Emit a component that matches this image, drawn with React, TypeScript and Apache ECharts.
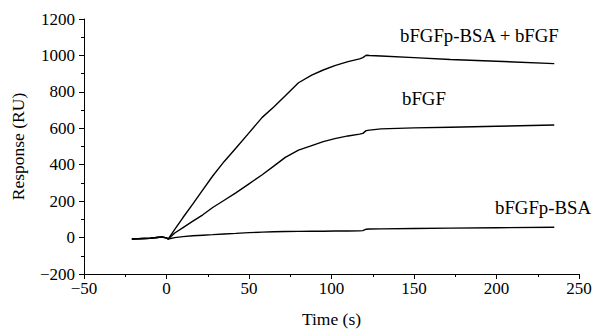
import React, { useEffect, useRef } from "react";
import * as echarts from "echarts";

const time = [-21, -10, -3, 0, 1, 5, 10, 16, 22, 28, 35, 42, 50, 58, 65, 72, 80, 88, 95, 102, 110, 117, 119, 121, 123, 130, 150, 172, 200, 235];
const complexResp = [-8, -4, 3, -2, -8, 45, 110, 185, 262, 338, 418, 490, 575, 660, 717, 778, 850, 892, 920, 944, 966, 981, 988, 1001, 1000, 997, 988, 978, 968, 955];
const bfgfResp = [-8, -4, 3, -2, -8, 25, 55, 90, 125, 165, 205, 245, 295, 345, 392, 440, 480, 505, 527, 543, 558, 568, 572, 587, 590, 597, 602, 606, 611, 618];
const bsaResp = [-8, -4, 3, -2, -8, 0, 5, 10, 13, 16, 20, 23, 27, 30, 32, 33, 34, 35, 35, 36, 36, 37, 38, 46, 47, 48, 50, 52, 54, 57];

const seriesNames = ["bFGFp-BSA + bFGF", "bFGF", "bFGFp-BSA"];
const xTicks = { min: -50, max: 250, interval: 50 };
const yTicks = { min: -200, max: 1200, interval: 200 };

const FONT = "'Liberation Serif', 'DejaVu Serif', serif";

function pairs(ys: number[]) {
  return time.map((t, i) => [t, ys[i]]);
}

export default function App() {
  const ref = useRef<HTMLDivElement>(null);
  useEffect(() => {
    if (!ref.current) return;
    const chart = echarts.init(ref.current, undefined, { renderer: "svg" });
    const fmt = (v: number) => String(v).replace("-", "\u2212");
    const lineStyle = { color: "#000", width: 1.4 };
    chart.setOption({
      animation: false,
      backgroundColor: "#fff",
      grid: { left: 84, right: 16, top: 19, bottom: 52, containLabel: false },
      xAxis: {
        type: "value",
        min: xTicks.min,
        max: xTicks.max,
        interval: xTicks.interval,
        name: "Time (s)",
        nameLocation: "middle",
        nameGap: 36,
        nameTextStyle: { fontFamily: FONT, fontSize: 17.5, color: "#000" },
        axisLine: { show: true, onZero: false, lineStyle: { color: "#000", width: 1 } },
        axisTick: { show: true, length: 5, lineStyle: { color: "#000" } },
        minorTick: { show: true, splitNumber: 2, length: 3, lineStyle: { color: "#000" } },
        splitLine: { show: false },
        axisLabel: { fontFamily: FONT, fontSize: 17, color: "#000", margin: 6, formatter: fmt },
      },
      yAxis: {
        type: "value",
        min: yTicks.min,
        max: yTicks.max,
        interval: yTicks.interval,
        name: "Response (RU)",
        nameLocation: "middle",
        nameGap: 57,
        nameTextStyle: { fontFamily: FONT, fontSize: 17.5, color: "#000" },
        axisLine: { show: true, onZero: false, lineStyle: { color: "#000", width: 1 } },
        axisTick: { show: true, length: 5, lineStyle: { color: "#000" } },
        minorTick: { show: true, splitNumber: 2, length: 3, lineStyle: { color: "#000" } },
        splitLine: { show: false },
        axisLabel: { fontFamily: FONT, fontSize: 17, color: "#000", margin: 9, formatter: fmt },
      },
      series: [
        { name: seriesNames[0], type: "line", data: pairs(complexResp), showSymbol: false, lineStyle, smooth: false },
        { name: seriesNames[1], type: "line", data: pairs(bfgfResp), showSymbol: false, lineStyle, smooth: false },
        { name: seriesNames[2], type: "line", data: pairs(bsaResp), showSymbol: false, lineStyle, smooth: false },
      ],
      graphic: [
        { type: "text", left: 400, top: 26, style: { text: seriesNames[0], font: `18.8px ${FONT}`, fill: "#000" } },
        { type: "text", left: 402, top: 89, style: { text: seriesNames[1], font: `18.8px ${FONT}`, fill: "#000" } },
        { type: "text", left: 495, top: 198, style: { text: seriesNames[2], font: `18.8px ${FONT}`, fill: "#000" } },
      ],
    });
    return () => chart.dispose();
  }, []);
  return (
    <div
      ref={ref}
      style={{ position: "fixed", left: 0, top: 0, width: 595, height: 333, background: "#fff" }}
    />
  );
}
